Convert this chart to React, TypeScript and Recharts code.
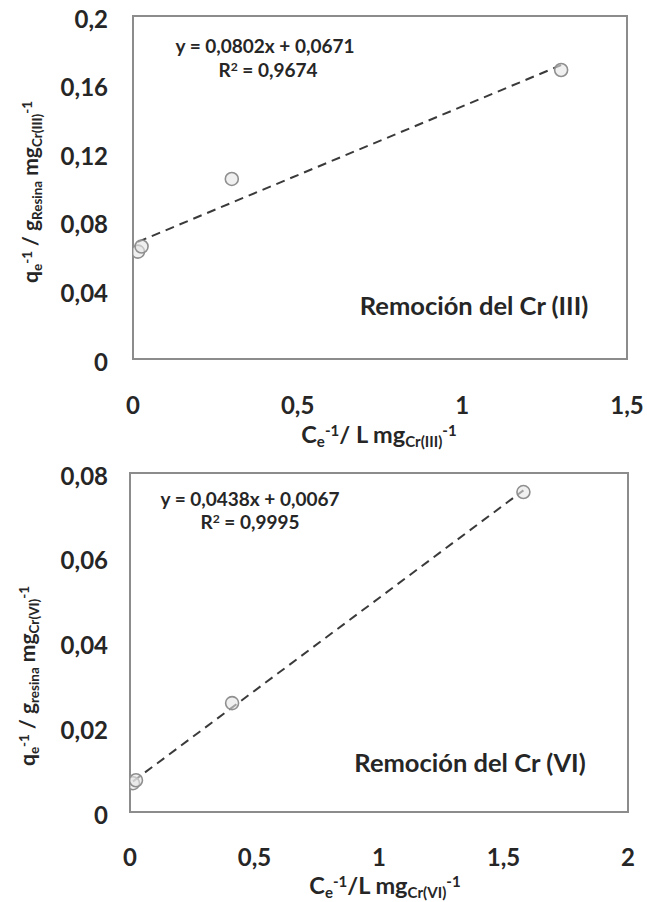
import {
  ReferenceArea,
  Scatter,
  ScatterChart,
  XAxis,
  YAxis,
} from "recharts";

// Cr(III) isotherm (linearised)
const cr3X = [0.015, 0.026, 0.3, 1.3];
const cr3Y = [0.0626, 0.0656, 0.105, 0.1685];
const cr3Fit = { slope: 0.0802, intercept: 0.0671 };
const cr3XTicks = [0, 0.5, 1, 1.5];
const cr3YTicks = [0, 0.04, 0.08, 0.12, 0.16, 0.2];

// Cr(VI) isotherm (linearised)
const cr6X = [0.012, 0.024, 0.41, 1.58];
const cr6Y = [0.0068, 0.0075, 0.0257, 0.0755];
const cr6Fit = { slope: 0.0438, intercept: 0.0067 };
const cr6XTicks = [0, 0.5, 1, 1.5, 2];
const cr6YTicks = [0, 0.02, 0.04, 0.06, 0.08];

const FONT = "Lato, 'Open Sans', sans-serif";
const TEXT = "#262626";
const AXIS = "#8c8c8c";

const fmt = (v: number) => String(v).replace(".", ",");

const toPoints = (xs: number[], ys: number[]) => xs.map((x, i) => ({ x, y: ys[i] }));
const fitLine = (xs: number[], fit: { slope: number; intercept: number }) => {
  const lo = Math.min(...xs);
  const hi = Math.max(...xs);
  return [lo, hi].map((x) => ({ x, y: fit.slope * x + fit.intercept }));
};

const YTick = (props: any) => {
  const { y, payload } = props;
  return (
    <text
      x={108}
      y={y + 2}
      textAnchor="end"
      dominantBaseline="central"
      fontFamily={FONT}
      fontWeight={700}
      fontSize={24}
      fill={TEXT}
    >
      {fmt(payload.value)}
    </text>
  );
};

const makeXTick = (offset: number) => (props: any) => {
  const { x, y, payload } = props;
  return (
    <text
      x={x}
      y={y + offset}
      textAnchor="middle"
      dominantBaseline="central"
      fontFamily={FONT}
      fontWeight={700}
      fontSize={24}
      fill={TEXT}
    >
      {fmt(payload.value)}
    </text>
  );
};

const Marker = (props: any) => {
  const { cx, cy } = props;
  return <circle cx={cx} cy={cy} r={6.5} fill="#e6e6e6" fillOpacity={0.6} stroke="#8f8f8f" strokeWidth={1.6} />;
};

const NoShape = () => <g />;

interface PanelProps {
  xs: number[];
  ys: number[];
  fit: { slope: number; intercept: number };
  xTicks: number[];
  yTicks: number[];
  margin: { top: number; right: number; left: number; bottom: number };
  yWidth: number;
  xHeight: number;
  tickOffset: number;
}

function Panel({ xs, ys, fit, xTicks, yTicks, margin, yWidth, xHeight, tickOffset }: PanelProps) {
  const xMax = xTicks[xTicks.length - 1];
  const yMax = yTicks[yTicks.length - 1];
  return (
    <ScatterChart width={647} height={451} margin={margin}>
      <XAxis
        type="number"
        dataKey="x"
        domain={[0, xMax]}
        ticks={xTicks}
        height={xHeight}
        tickLine={false}
        axisLine={{ stroke: AXIS, strokeWidth: 2 }}
        tick={makeXTick(tickOffset)}
        allowDataOverflow
      />
      <YAxis
        type="number"
        dataKey="y"
        domain={[0, yMax]}
        ticks={yTicks}
        width={yWidth}
        tickLine={false}
        axisLine={{ stroke: AXIS, strokeWidth: 2 }}
        tick={<YTick />}
        allowDataOverflow
      />
      <ReferenceArea x1={0} x2={xMax} y1={0} y2={yMax} fill="none" stroke={AXIS} strokeWidth={2} />
      <Scatter
        data={fitLine(xs, fit)}
        line={{ stroke: "#3a3a3a", strokeWidth: 2, strokeDasharray: "9 6" }}
        shape={NoShape}
        isAnimationActive={false}
      />
      <Scatter data={toPoints(xs, ys)} shape={Marker} isAnimationActive={false} />
    </ScatterChart>
  );
}

const abs = (left: number, top: number, extra: any = {}) => ({
  position: "absolute" as const,
  left,
  top,
  fontFamily: FONT,
  fontWeight: 700,
  color: TEXT,
  whiteSpace: "nowrap" as const,
  lineHeight: 1,
  ...extra,
});

const sub = { fontSize: "0.64em", verticalAlign: "-0.3em", lineHeight: 1 };
const sup = { fontSize: "0.64em", verticalAlign: "0.45em", lineHeight: 1 };

export default function App() {
  return (
    <div style={{ position: "absolute", left: 0, top: 0, width: 647, height: 902, background: "#fff", overflow: "hidden" }}>
      <div style={{ position: "absolute", left: 0, top: 0 }}>
        <Panel
          xs={cr3X}
          ys={cr3Y}
          fit={cr3Fit}
          xTicks={cr3XTicks}
          yTicks={cr3YTicks}
          margin={{ top: 16, right: 20, left: 0, bottom: 0 }}
          yWidth={133}
          xHeight={92}
          tickOffset={37}
        />
      </div>
      <div style={{ position: "absolute", left: 0, top: 451 }}>
        <Panel
          xs={cr6X}
          ys={cr6Y}
          fit={cr6Fit}
          xTicks={cr6XTicks}
          yTicks={cr6YTicks}
          margin={{ top: 22, right: 19, left: 0, bottom: 0 }}
          yWidth={130}
          xHeight={90}
          tickOffset={36}
        />
      </div>

      {/* top panel texts */}
      <div style={abs(265, 45, { fontSize: 19, transform: "translate(-50%,-50%)" })}>y = 0,0802x + 0,0671</div>
      <div style={abs(268, 69, { fontSize: 19, transform: "translate(-50%,-50%)" })}>
        R<span style={sup}>2</span> = 0,9674
      </div>
      <div style={abs(474, 306, { fontSize: 25.5, transform: "translate(-50%,-50%)" })}>Remoción del Cr (III)</div>
      <div style={abs(379, 436, { fontSize: 23.5, transform: "translate(-50%,-50%)" })}>
        C<span style={sub}>e</span>
        <span style={sup}>-1</span>/ L mg<span style={sub}>Cr(III)</span>
        <span style={sup}>-1</span>
      </div>
      <div style={abs(32, 192, { fontSize: 21, transform: "translate(-50%,-50%) rotate(-90deg)" })}>
        q<span style={sub}>e</span>
        <span style={sup}>-1</span> / g<span style={sub}>Resina</span> mg<span style={sub}>Cr(III)</span>
        <span style={sup}>-1</span>
      </div>

      {/* bottom panel texts */}
      <div style={abs(250, 498, { fontSize: 19, transform: "translate(-50%,-50%)" })}>y = 0,0438x + 0,0067</div>
      <div style={abs(250, 521, { fontSize: 19, transform: "translate(-50%,-50%)" })}>
        R<span style={sup}>2</span> = 0,9995
      </div>
      <div style={abs(470, 763, { fontSize: 25.5, transform: "translate(-50%,-50%)" })}>Remoción del Cr (VI)</div>
      <div style={abs(385, 887, { fontSize: 23.5, transform: "translate(-50%,-50%)" })}>
        C<span style={sub}>e</span>
        <span style={sup}>-1</span>/L mg<span style={sub}>Cr(VI)</span>
        <span style={sup}>-1</span>
      </div>
      <div style={abs(29, 676, { fontSize: 21, transform: "translate(-50%,-50%) rotate(-90deg)" })}>
        q<span style={sub}>e</span>
        <span style={sup}>-1</span> / g<span style={sub}>resina</span> mg<span style={sub}>Cr(VI)</span>
        <span style={sup}>-1</span>
      </div>
    </div>
  );
}
